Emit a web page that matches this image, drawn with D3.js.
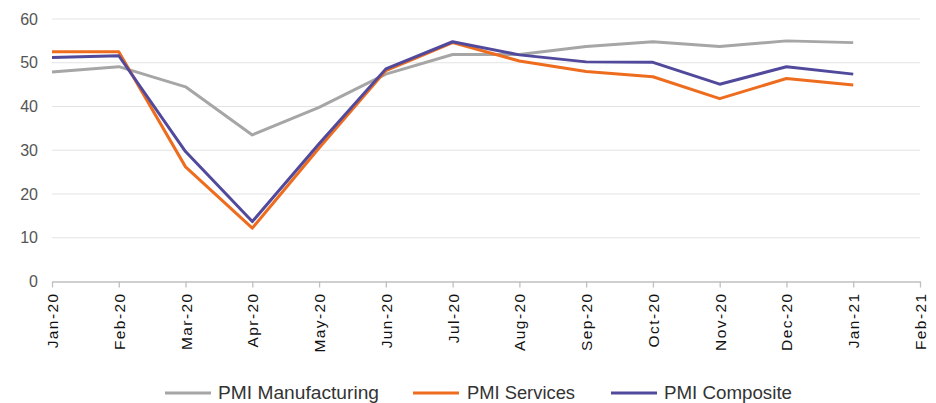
<!DOCTYPE html>
<html>
<head>
<meta charset="utf-8">
<script src="https://cdn.jsdelivr.net/npm/d3@7/dist/d3.min.js"></script>
<style>
  html, body { margin: 0; padding: 0; background: #fff; }
  svg { display: block; }
</style>
</head>
<body>
<svg id="chart" width="936" height="403"></svg>
<script>
// Month categories along the x axis (one extra slot at the end)
const months = ["Jan-20","Feb-20","Mar-20","Apr-20","May-20","Jun-20","Jul-20",
                "Aug-20","Sep-20","Oct-20","Nov-20","Dec-20","Jan-21","Feb-21"];
const yTicks = [0, 10, 20, 30, 40, 50, 60];

// PMI readings, Jan-20 .. Jan-21
const manufacturing = [47.9, 49.1, 44.5, 33.5, 39.8, 47.4, 51.9, 51.9, 53.7, 54.8, 53.7, 55.0, 54.6];
const services      = [52.5, 52.5, 26.2, 12.2, 30.5, 48.2, 54.6, 50.4, 48.0, 46.8, 41.8, 46.4, 44.9];
const composite     = [51.2, 51.6, 29.7, 13.7, 31.5, 48.6, 54.8, 51.8, 50.2, 50.1, 45.1, 49.1, 47.4];

const seriesNames  = ["PMI Manufacturing", "PMI Services", "PMI Composite"];
const seriesColors = ["#a6a6a6", "#ee6c1e", "#514a9c"];
const seriesData   = [manufacturing, services, composite];

const svg = d3.select("#chart");
const plotLeft = 52, plotRight = 920, plotTop = 19, plotBottom = 281.5;

const x = d3.scalePoint().domain(months).range([plotLeft, plotRight]);
const y = d3.scaleLinear().domain([0, 60]).range([plotBottom, plotTop]);

// Horizontal gridlines
svg.append("g")
  .selectAll("line")
  .data(yTicks.filter(d => d > 0))
  .join("line")
  .attr("x1", plotLeft).attr("x2", plotRight)
  .attr("y1", d => y(d)).attr("y2", d => y(d))
  .attr("stroke", "#e3e3e3").attr("stroke-width", 1.2);

// Y axis labels
const yAxis = svg.append("g")
  .attr("transform", `translate(${plotLeft - 14},0)`)
  .call(d3.axisLeft(y).tickValues(yTicks).tickSize(0).tickPadding(0));
yAxis.select(".domain").remove();
yAxis.selectAll("text")
  .attr("fill", "#555")
  .style("font-family", "'Liberation Sans', Arial, sans-serif")
  .style("font-size", "16px");

// X axis with rotated month labels
const xAxis = svg.append("g")
  .attr("transform", `translate(0,${plotBottom})`)
  .call(d3.axisBottom(x).tickSize(6).tickSizeOuter(0));
xAxis.select(".domain").attr("stroke", "#bfbfbf").attr("stroke-width", 1.3);
xAxis.selectAll(".tick line").attr("stroke", "#bfbfbf").attr("stroke-width", 1.3);
xAxis.selectAll("text")
  .attr("fill", "#111")
  .attr("transform", "rotate(-90)")
  .attr("text-anchor", "end")
  .attr("dominant-baseline", "central")
  .attr("x", -11)
  .attr("y", 0)
  .attr("dy", null)
  .style("font-family", "'Liberation Sans', Arial, sans-serif")
  .style("font-size", "15.5px")
  .style("letter-spacing", "1.4px");

// Series lines
const line = d3.line()
  .x((d, i) => x(months[i]))
  .y(d => y(d));

svg.append("g")
  .selectAll("path")
  .data(seriesData)
  .join("path")
  .attr("d", d => line(d))
  .attr("fill", "none")
  .attr("stroke", (d, i) => seriesColors[i])
  .attr("stroke-width", 3)
  .attr("stroke-linejoin", "round");

// Legend
const legendItems = [
  { lineX: 165, textX: 218, width: 161 },
  { lineX: 413, textX: 467, width: 108 },
  { lineX: 611, textX: 664, width: 128 }
];
const legendY = 393;
const legend = svg.append("g");
legendItems.forEach((item, i) => {
  legend.append("line")
    .attr("x1", item.lineX).attr("x2", item.lineX + 46)
    .attr("y1", legendY).attr("y2", legendY)
    .attr("stroke", seriesColors[i]).attr("stroke-width", 3);
  legend.append("text")
    .attr("x", item.textX).attr("y", legendY)
    .attr("dominant-baseline", "central")
    .attr("textLength", item.width)
    .attr("lengthAdjust", "spacingAndGlyphs")
    .attr("fill", "#333")
    .style("font-family", "'Liberation Sans Narrow', 'Liberation Sans', Arial, sans-serif")
    .style("font-size", "17.5px")
    .text(seriesNames[i]);
});
</script>
</body>
</html>
